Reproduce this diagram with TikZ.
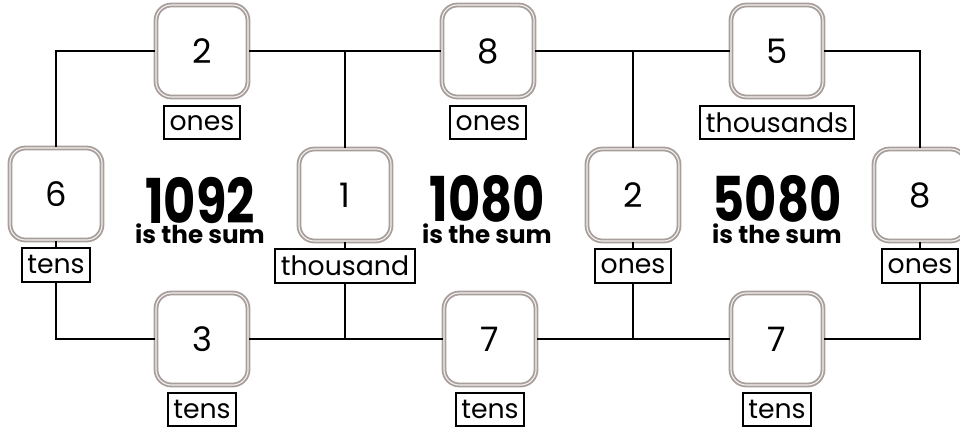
\documentclass[tikz,border=0pt]{standalone}
\usepackage{fontspec}
\setmainfont{Poppins}
\newfontfamily\sumfont[FakeStretch=0.8]{Poppins}
\newcommand{\sumline}{\rmfamily\bfseries\fontsize{17.5}{14.5}\selectfont}
\usetikzlibrary{positioning}
\definecolor{tileBorder}{HTML}{A89E9C}
\definecolor{tileGap}{HTML}{F2EFEE}

\begin{document}
\begin{tikzpicture}[
    x=0.025cm, y=-0.025cm,
    tile/.style={
        rectangle, draw=tileBorder, fill=white,
        line width=1.3pt, double=tileGap, double distance=0.8pt,
        minimum width=2.3cm, minimum height=2.3cm,
        rounded corners=11pt,
        font=\fontsize{24}{28}\selectfont
    },
    tag/.style={
        rectangle, draw, fill=white, line width=1.4pt,
        minimum height=0.83cm, inner xsep=4pt, inner ysep=0pt,
        font=\fontsize{19}{21}\selectfont
    },
    sum/.style={font=\sumfont\bfseries\fontsize{44}{14.5}\selectfont,
        align=center, inner sep=0pt, anchor=south},
    link/.style={line width=1.4pt}
]
  \useasboundingbox (0,0) rectangle (960,429);
  \clip (0,0) rectangle (960,429);

  % Top row
  \node[tile] (top1) at (202,51) {2};
  \node[tile] (top2) at (488,51) {8};
  \node[tile] (top3) at (777,51) {5};
  \node[tag, below=0.18cm of top1] (tagtop1) {ones};
  \node[tag, below=0.18cm of top2] (tagtop2) {ones};
  \node[tag, below=0.18cm of top3] (tagtop3) {thousands};

  % Middle row
  \node[tile] (mid1) at (56,194) {6};
  \node[tile] (mid2) at (345,195) {1};
  \node[tile] (mid3) at (633,195) {2};
  \node[tile] (mid4) at (920,195) {8};
  \node[tag, below=0.16cm of mid1] (tagmid1) {tens};
  \node[tag, below=0.16cm of mid2] (tagmid2) {thousand};
  \node[tag, below=0.16cm of mid3] (tagmid3) {ones};
  \node[tag, below=0.16cm of mid4] (tagmid4) {ones};

  % Bottom row
  \node[tile] (bot1) at (202,339) {3};
  \node[tile] (bot2) at (490,339) {7};
  \node[tile] (bot3) at (777,339) {7};
  \node[tag, below=0.15cm of bot1] (tagbot1) {tens};
  \node[tag, below=0.15cm of bot2] (tagbot2) {tens};
  \node[tag, below=0.15cm of bot3] (tagbot3) {tens};

  % Sums
  \node[sum] (sum1) at (200,244) {1092\\{\sumline is the sum}};
  \node[sum] (sum2) at (487,244) {1080\\{\sumline is the sum}};
  \node[sum] (sum3) at (777,244) {5080\\{\sumline is the sum}};

  % Top links
  \draw[link] (mid1.north) |- (top1.west);
  \draw[link] (top1) -- (top2);
  \draw[link] (top2) -- (top3);
  \draw[link] (top3.east) -| (mid4.north);
  \draw[link] (mid2.north) -- (mid2.north |- top1.west);
  \draw[link] (mid3.north) -- (mid3.north |- top1.west);

  % Tiles to their tags
  \draw[link] (mid1) -- (tagmid1);
  \draw[link] (mid2) -- (tagmid2);
  \draw[link] (mid3) -- (tagmid3);
  \draw[link] (mid4) -- (tagmid4);

  % Bottom links
  \draw[link] (tagmid1.south) |- (bot1.west);
  \draw[link] (bot1) -- (bot2);
  \draw[link] (bot2) -- (bot3);
  \draw[link] (tagmid4.south) |- (bot3.east);
  \draw[link] (tagmid2.south) -- (tagmid2.south |- bot1.west);
  \draw[link] (tagmid3.south) -- (tagmid3.south |- bot1.west);

\end{tikzpicture}
\end{document}
